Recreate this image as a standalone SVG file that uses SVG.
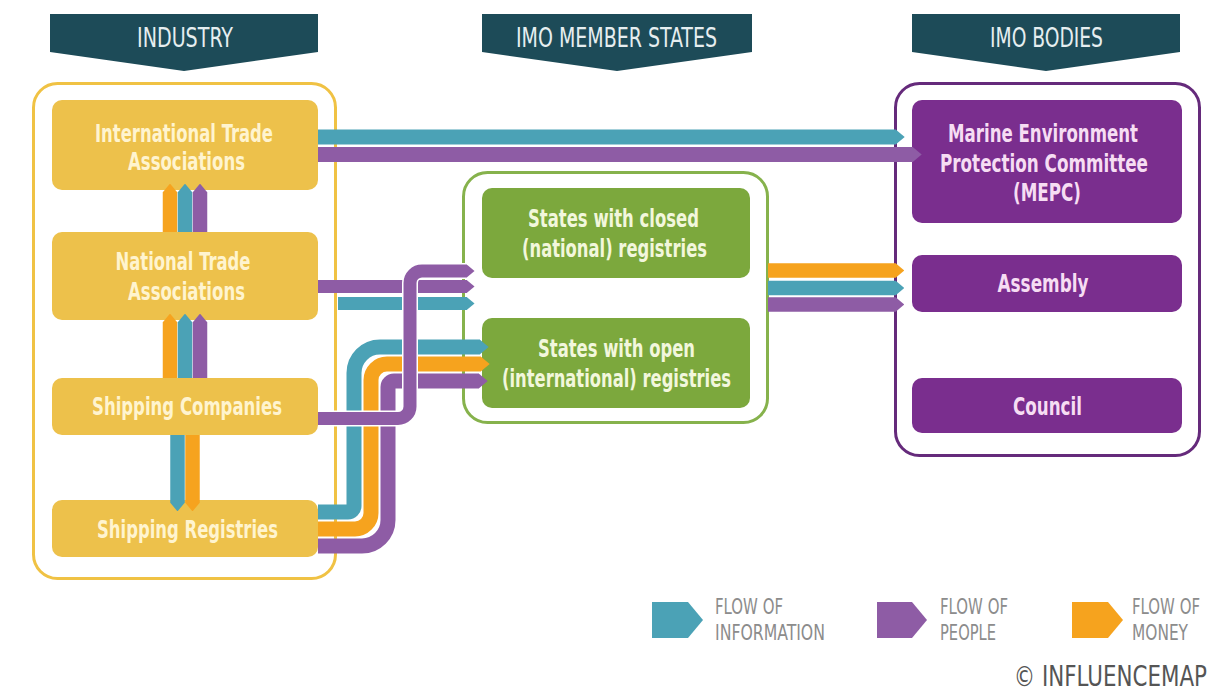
<svg xmlns="http://www.w3.org/2000/svg" width="1221" height="697" viewBox="0 0 1221 697">
<defs>
<style>
.banner{fill:#1D4B58}
.bt{font-family:"Liberation Sans Narrow","DejaVu Sans Condensed","Liberation Sans",sans-serif;font-size:27px;fill:#E6EEF0;text-anchor:middle}
.nt{font-family:"Liberation Sans Narrow","DejaVu Sans Condensed","Liberation Sans",sans-serif;font-size:25px;font-weight:bold;text-anchor:middle}
.yel{fill:#EDC14B}
.yt{fill:#FFF4CF}
.grn{fill:#7CA83D}
.gt{fill:#F2F7DC}
.pur{fill:#7A2E8E}
.pt{fill:#F6DDF3}
.box{fill:none;stroke-width:3}
.f{fill:none}
.t{stroke:#4BA2B6}
.p{stroke:#8E5CA5}
.o{stroke:#F6A31E}
.lt{font-family:"Liberation Sans Narrow","DejaVu Sans Condensed","Liberation Sans",sans-serif;font-size:21px;fill:#8C8C8C}
</style>
<marker id="mt" viewBox="0 -0.5 0.6 1" refX="0.02" refY="0" markerWidth="0.6" markerHeight="1" orient="auto" markerUnits="strokeWidth"><path d="M0,-0.5 L0.6,0 L0,0.5 Z" fill="#4BA2B6"/></marker>
<marker id="mp" viewBox="0 -0.5 0.6 1" refX="0.02" refY="0" markerWidth="0.6" markerHeight="1" orient="auto" markerUnits="strokeWidth"><path d="M0,-0.5 L0.6,0 L0,0.5 Z" fill="#8E5CA5"/></marker>
<marker id="mo" viewBox="0 -0.5 0.6 1" refX="0.02" refY="0" markerWidth="0.6" markerHeight="1" orient="auto" markerUnits="strokeWidth"><path d="M0,-0.5 L0.6,0 L0,0.5 Z" fill="#F6A31E"/></marker>
</defs>
<rect width="1221" height="697" fill="#FFFFFF"/>

<g id="banners">
<g id="banner-industry"><path class="banner" d="M50,14 H318 V52 L184,71 L50,52 Z"/><text class="bt" x="185" y="47" textLength="96" lengthAdjust="spacingAndGlyphs">INDUSTRY</text></g>
<g id="banner-states"><path class="banner" d="M482,14 H752 V52 L617,71 L482,52 Z"/><text class="bt" x="616.5" y="47" textLength="201" lengthAdjust="spacingAndGlyphs">IMO MEMBER STATES</text></g>
<g id="banner-bodies"><path class="banner" d="M912,14 H1180 V52 L1046,71 L912,52 Z"/><text class="bt" x="1046.5" y="47" textLength="113" lengthAdjust="spacingAndGlyphs">IMO BODIES</text></g>
</g>

<g id="containers">
<rect id="industry-group" class="box" x="33.5" y="83.5" width="302" height="495" rx="24" stroke="#F0C244"/>
<rect id="states-group" class="box" x="463.5" y="172.5" width="304" height="250" rx="24" stroke="#86B24C"/>
<rect id="bodies-group" class="box" x="895.5" y="83.5" width="304" height="372" rx="24" stroke="#652A7B"/>
</g>

<g id="node-intl-trade"><rect class="yel" x="52" y="100" width="266" height="90" rx="10"/><text class="nt yt" x="184" y="142" textLength="178" lengthAdjust="spacingAndGlyphs">International Trade</text><text class="nt yt" x="186.5" y="170" textLength="117" lengthAdjust="spacingAndGlyphs">Associations</text></g>
<g id="node-national-trade"><rect class="yel" x="52" y="232" width="266" height="88" rx="10"/><text class="nt yt" x="183" y="270" textLength="135" lengthAdjust="spacingAndGlyphs">National Trade</text><text class="nt yt" x="186.5" y="300" textLength="117" lengthAdjust="spacingAndGlyphs">Associations</text></g>
<g id="node-shipping-companies"><rect class="yel" x="52" y="378" width="266" height="57" rx="10"/><text class="nt yt" x="187" y="415" textLength="190" lengthAdjust="spacingAndGlyphs">Shipping Companies</text></g>
<g id="node-shipping-registries"><rect class="yel" x="52" y="500" width="266" height="57" rx="10"/><text class="nt yt" x="187.5" y="538" textLength="181" lengthAdjust="spacingAndGlyphs">Shipping Registries</text></g>

<g id="node-closed"><rect class="grn" x="482" y="188" width="268" height="90" rx="10"/><text class="nt gt" x="613.5" y="227" textLength="171" lengthAdjust="spacingAndGlyphs">States with closed</text><text class="nt gt" x="614.5" y="257" textLength="185" lengthAdjust="spacingAndGlyphs">(national) registries</text></g>
<g id="node-open"><rect class="grn" x="482" y="318" width="268" height="90" rx="10"/><text class="nt gt" x="616.5" y="357" textLength="157" lengthAdjust="spacingAndGlyphs">States with open</text><text class="nt gt" x="616.5" y="387" textLength="229" lengthAdjust="spacingAndGlyphs">(international) registries</text></g>

<g id="node-mepc"><rect class="pur" x="912" y="100" width="270" height="123" rx="10"/><text class="nt pt" x="1043" y="142" textLength="190" lengthAdjust="spacingAndGlyphs">Marine Environment</text><text class="nt pt" x="1044" y="172" textLength="208" lengthAdjust="spacingAndGlyphs">Protection Committee</text><text class="nt pt" x="1047" y="201" textLength="68" lengthAdjust="spacingAndGlyphs">(MEPC)</text></g>
<g id="node-assembly"><rect class="pur" x="912" y="255" width="270" height="57" rx="10"/><text class="nt pt" x="1043" y="292" textLength="91" lengthAdjust="spacingAndGlyphs">Assembly</text></g>
<g id="node-council"><rect class="pur" x="912" y="378" width="270" height="55" rx="10"/><text class="nt pt" x="1047.5" y="415" textLength="69" lengthAdjust="spacingAndGlyphs">Council</text></g>

<g id="connectors">
<path class="f t" stroke-width="15" d="M318,137 H896" marker-end="url(#mt)"/>
<path class="f p" stroke-width="15" d="M318,154.5 H913" marker-end="url(#mp)"/>
<path class="f o" stroke-width="14.5" d="M170,232 V192" marker-end="url(#mo)"/>
<path class="f t" stroke-width="14.5" d="M185,232 V192" marker-end="url(#mt)"/>
<path class="f p" stroke-width="14.5" d="M200,232 V192" marker-end="url(#mp)"/>
<path class="f o" stroke-width="14.5" d="M170,378 V322" marker-end="url(#mo)"/>
<path class="f t" stroke-width="14.5" d="M185,378 V322" marker-end="url(#mt)"/>
<path class="f p" stroke-width="14.5" d="M200,378 V322" marker-end="url(#mp)"/>
<path class="f t" stroke-width="14.5" d="M177.5,435 V503" marker-end="url(#mt)"/>
<path class="f o" stroke-width="14.5" d="M192.5,435 V503" marker-end="url(#mo)"/>
<path class="f t" stroke-width="15" d="M318,512 H348 A6,6 0 0 0 354,506 V373 A26,26 0 0 1 380,347 H480" marker-end="url(#mt)"/>
<path class="f o" stroke-width="15" d="M318,529 H355 A16,16 0 0 0 371,513 V380 A16,16 0 0 1 387,364 H481" marker-end="url(#mo)"/>
<path class="f p" stroke-width="15" d="M318,546 H362 A26,26 0 0 0 388,520 V387 A6,6 0 0 1 394,381 H479" marker-end="url(#mp)"/>
<path class="f p" stroke-width="13" d="M318,286.5 H467" marker-end="url(#mp)"/>
<path class="f t" stroke-width="13" d="M338,303.5 H467" marker-end="url(#mt)"/>
<path class="f" stroke="#FFFFFF" stroke-width="16" d="M318,418.5 H398 A12,12 0 0 0 410,406.5 V283 A12,12 0 0 1 422,271 H467"/>
<path class="f p" stroke-width="13" d="M318,418.5 H398 A12,12 0 0 0 410,406.5 V283 A12,12 0 0 1 422,271 H467" marker-end="url(#mp)"/>
<path class="f o" stroke-width="14.5" d="M768,270.5 H896" marker-end="url(#mo)"/>
<path class="f t" stroke-width="14.5" d="M768,288 H896" marker-end="url(#mt)"/>
<path class="f p" stroke-width="14.5" d="M768,304.5 H896" marker-end="url(#mp)"/>
</g>

<g id="legend">
<polygon points="652,602 688,602 703,620 688,638 652,638" fill="#4BA2B6"/>
<text class="lt" x="715" y="614" textLength="68" lengthAdjust="spacingAndGlyphs">FLOW OF</text>
<text class="lt" x="715" y="640" textLength="110" lengthAdjust="spacingAndGlyphs">INFORMATION</text>
<polygon points="877,602 912,602 927,620 912,638 877,638" fill="#8E5CA5"/>
<text class="lt" x="940" y="614" textLength="68" lengthAdjust="spacingAndGlyphs">FLOW OF</text>
<text class="lt" x="940" y="640" textLength="56" lengthAdjust="spacingAndGlyphs">PEOPLE</text>
<polygon points="1072,602 1108,602 1123,620 1108,638 1072,638" fill="#F6A31E"/>
<text class="lt" x="1132" y="614" textLength="68" lengthAdjust="spacingAndGlyphs">FLOW OF</text>
<text class="lt" x="1132" y="640" textLength="56" lengthAdjust="spacingAndGlyphs">MONEY</text>
<text transform="translate(1207,686) scale(0.85,1)" x="0" y="0" text-anchor="end" font-family="'Liberation Sans Narrow','DejaVu Sans Condensed','Liberation Sans',sans-serif" font-size="28" fill="#555555">© INFLUENCEMAP</text>
</g>
</svg>
